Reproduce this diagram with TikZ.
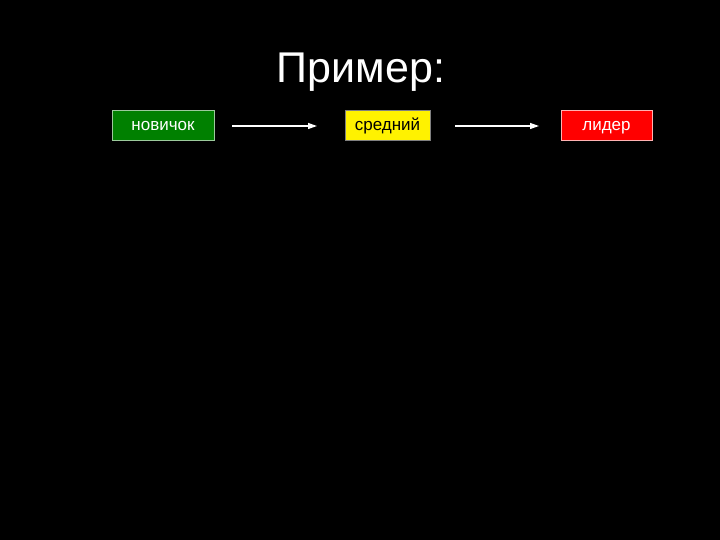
\documentclass[tikz,border=0pt]{standalone}
\usepackage{fontspec}
\setmainfont{Liberation Sans}
\usetikzlibrary{arrows.meta}
\begin{document}
\begin{tikzpicture}[x=1pt,y=-1pt,
  box/.style={draw, line width=1pt, minimum height=30pt, inner sep=0pt, text height=12.5pt, text depth=2.5pt, font=\fontsize{17}{20}\selectfont},
  conn/.style={draw=white, line width=1.2pt, -{Triangle[length=9pt,width=6pt]}}]
\fill[black] (0,0) rectangle (720,540);
\useasboundingbox (0,0) rectangle (720,540);
\node[text=white, anchor=base, inner sep=0pt, font=\fontsize{43}{48}\selectfont] (title) at (361,83) {Пример:};
\node[box, fill=green!50!black, draw=green!30!gray!60!white, text=white, minimum width=102pt] (a) at (163,126) {новичок};
\node[box, fill=yellow, draw=gray, text=black, minimum width=85pt] (b) at (387.5,126) {средний};
\node[box, fill=red, draw=red!30!white, text=white, minimum width=91pt] (c) at (606.5,126) {лидер};
\coordinate (a1) at (232,126);
\coordinate (a2) at (317,126);
\coordinate (b1) at (455,126);
\coordinate (b2) at (539,126);
\draw[conn] (a1) -- (a2);
\draw[conn] (b1) -- (b2);
\end{tikzpicture}
\end{document}
